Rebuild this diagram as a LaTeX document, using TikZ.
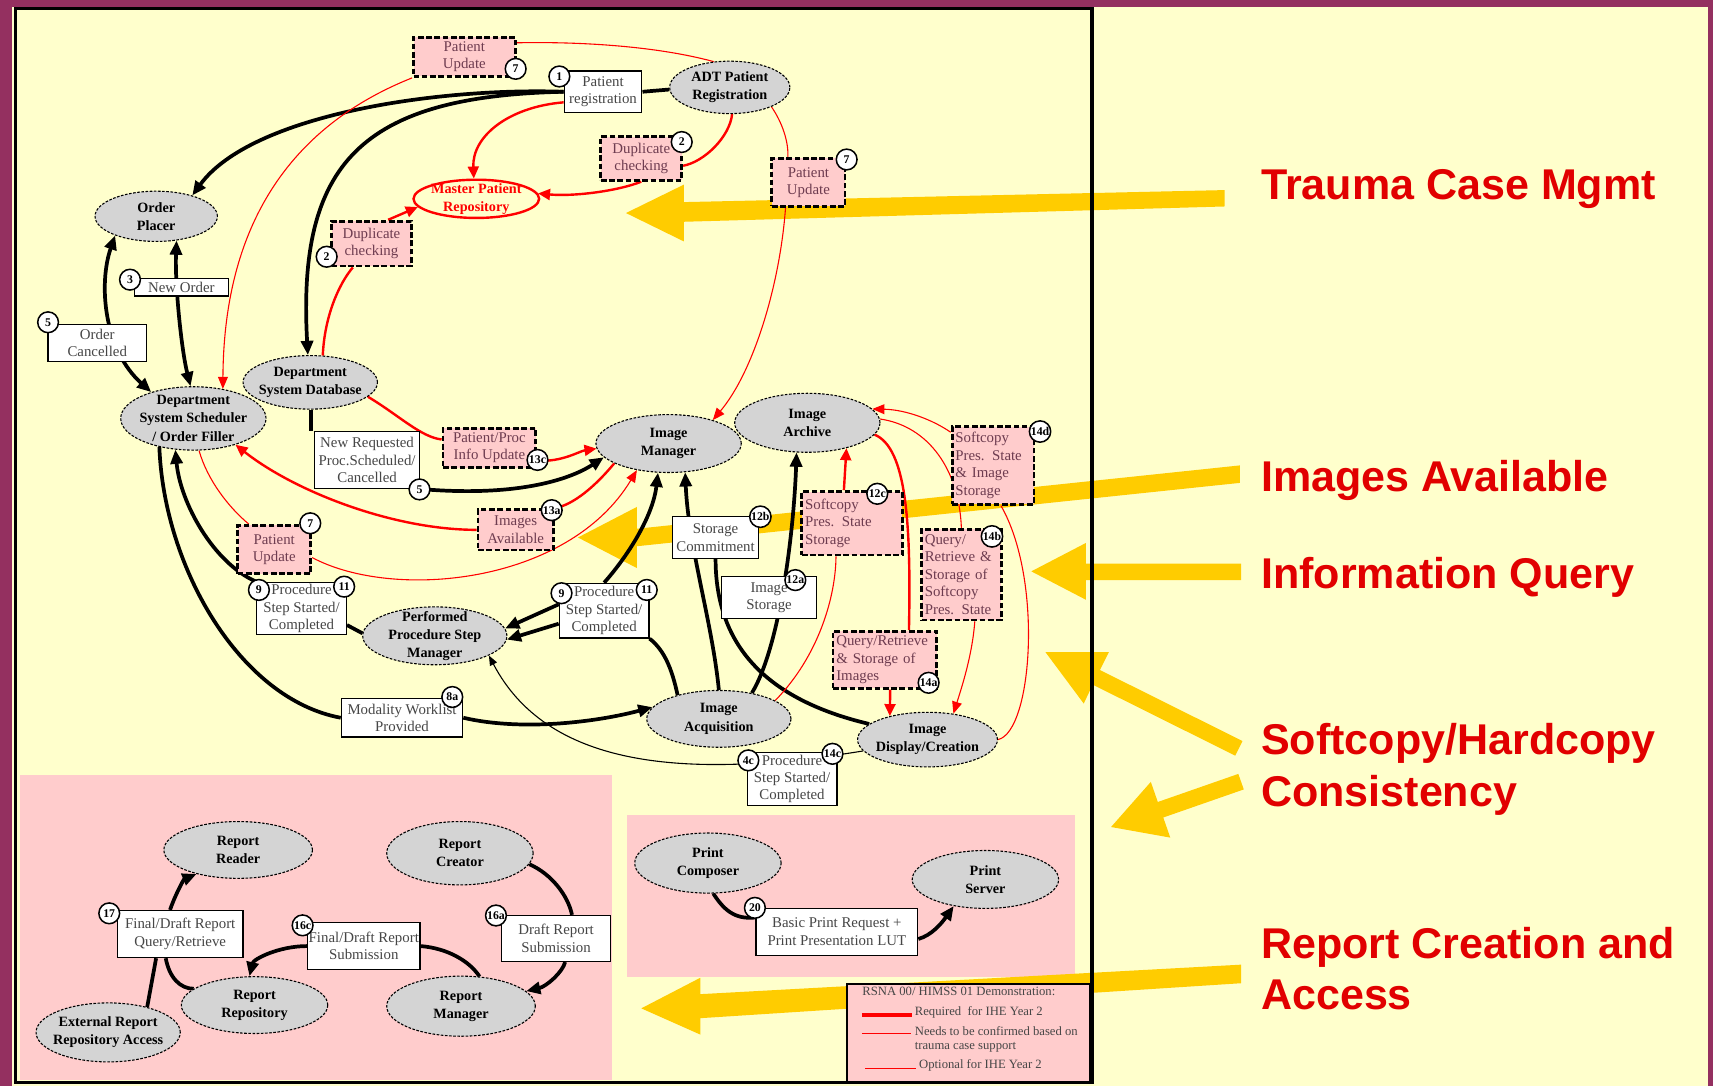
\documentclass[tikz,border=0pt]{standalone}
\usepackage{fontspec}
\setmainfont{Liberation Serif}
\newfontfamily\headfont{Liberation Sans}
\usetikzlibrary{shapes.geometric,arrows.meta,calc}
\pgfdeclarelayer{back}
\pgfdeclarelayer{wires}
\pgfsetlayers{back,wires,main}
\definecolor{frameplum}{RGB}{148,48,96}
\definecolor{paleyellow}{RGB}{255,255,204}
\definecolor{palepink}{RGB}{255,204,204}
\definecolor{actorgray}{RGB}{212,212,212}
\definecolor{gold}{RGB}{255,204,0}
\definecolor{labelred}{RGB}{225,0,0}
\definecolor{msgtext}{RGB}{70,70,70}
\definecolor{updtext}{RGB}{110,60,80}

\begin{document}
\begin{tikzpicture}[x=0.5pt, y=-0.5pt,
  actor/.style 2 args={ellipse, draw, line width=0.5pt, dash pattern=on 1.2pt off 0.7pt, fill=actorgray, inner sep=-3pt, minimum width=#1pt, minimum height=#2pt, align=center, font=\fontsize{6.5}{8.3}\selectfont\bfseries},
  msg/.style 2 args={rectangle, draw, line width=0.6pt, fill=white, inner sep=0.5pt, minimum width=#1pt, minimum height=#2pt, align=center, text=msgtext, font=\fontsize{6.8}{8}\selectfont},
  upd/.style 2 args={rectangle, draw, line width=1.3pt, dash pattern=on 2.6pt off 1.2pt, fill=palepink, inner sep=0.5pt, minimum width=#1pt, minimum height=#2pt, align=center, text=updtext, font=\fontsize{6.8}{8}\selectfont},
  updl/.style={align=left, inner xsep=1.5pt},
  num/.style={circle, draw, line width=0.7pt, fill=white, inner sep=0.2pt, minimum size=9.5pt, font=\fontsize{5.4}{5.4}\selectfont\bfseries},
  flow/.style={line width=1.7pt},
  flowar/.style={flow, -{Triangle[length=6.5pt,width=5.5pt]}},
  flowboth/.style={flow, {Triangle[length=6.5pt,width=5.5pt]}-{Triangle[length=6.5pt,width=5.5pt]}},
  req/.style={red, line width=1.1pt},
  reqar/.style={req, -{Triangle[length=5.5pt,width=5pt]}},
  opt/.style={red, line width=0.5pt},
  optar/.style={opt, -{Triangle[length=5.5pt,width=4.5pt]}},
  hint/.style={line width=0.5pt, -{Triangle[length=4.5pt,width=3.5pt]}},
  legtext/.style={anchor=west, inner sep=0pt, text=msgtext, font=\fontsize{5.8}{7}\selectfont},
  theme/.style={anchor=base west, inner sep=0pt, text=labelred, font=\headfont\fontsize{19.7}{23}\selectfont\bfseries},
  pointer/.style={fill=gold}]
\useasboundingbox (0,0) rectangle (1568,994);

\begin{pgfonlayer}{back}
  \fill[frameplum] (0,0) rectangle (1568,994);
  \fill[paleyellow] (11,6) rectangle (1563,994);
  \fill[palepink] (18,709) rectangle (560,989);
  \fill[palepink] (574,746) rectangle (984,894);
  % big pointers
  \fill[pointer] (1121,174) -- (626,185) -- (626,169) -- (573,195) -- (626,221) -- (626,203) -- (1121,189) -- cycle;
  \fill[pointer] (1135,426) -- (583,484) -- (583,464) -- (529,492) -- (583,520) -- (583,500) -- (1135,442) -- cycle;
  \fill[pointer] (1136,516) -- (994,516) -- (994,497) -- (944,523) -- (994,549) -- (994,531) -- (1136,531) -- cycle;
  \fill[pointer] (957,597) -- (1015,597) -- (1006.8,613.3) -- (1137.3,678.3) -- (1130.7,691.7) -- (1000.2,626.7) -- (992,644) -- cycle;
  \fill[pointer] (1017,757) -- (1053.4,715.7) -- (1059.8,734.1) -- (1133.5,708.4) -- (1138.5,722.6) -- (1064.8,748.3) -- (1071.2,766.7) -- cycle;
  \fill[pointer] (1136,883) -- (641,910) -- (641,895) -- (587,923) -- (641,947) -- (641,932) -- (1136,900) -- cycle;
  \draw[line width=0.8pt, fill=palepink] (775,901) rectangle (998,991);
  \draw[line width=1.6pt] (14,8) rectangle (999.5,991);
\end{pgfonlayer}

% actors
\node[actor={55}{24}] (adt) at (668,80) {ADT Patient\\Registration};
\node[actor={56}{23}] (oplacer) at (143,198) {Order\\Placer};
\node[actor={57.5}{17.5}, draw=red, line width=1.1pt, solid, fill=paleyellow, text=red] (mpr) at (436,182) {Master Patient\\Repository};
\node[actor={61.5}{24.5}] (dsd) at (284,350) {Department\\System Database};
\node[actor={66.5}{29}] (sched) at (177,383) {Department\\System Scheduler\\/ Order Filler};
\node[actor={66.5}{26.5}] (imgmgr) at (612,406) {Image\\Manager};
\node[actor={66.5}{27}] (imgarch) at (739,387) {Image\\Archive};
\node[actor={66}{26.5}] (ppsm) at (398,582) {Performed\\Procedure Step\\Manager};
\node[actor={66}{26}] (imgacq) at (658,658) {Image\\Acquisition};
\node[actor={64}{25}] (imgdisp) at (849,677) {Image\\Display/Creation};
\node[actor={68}{26}] (rreader) at (218,778) {Report\\Reader};
\node[actor={67}{29}] (rcreator) at (421,781) {Report\\Creator};
\node[actor={67}{26}] (rrepo) at (233,920) {Report\\Repository};
\node[actor={68}{27.5}] (rmgr) at (422,921) {Report\\Manager};
\node[actor={66}{27}] (extacc) at (99,945) {External Report\\Repository Access};
\node[actor={67}{27.5}] (prcomp) at (648,790) {Print\\Composer};
\node[actor={67}{26.5}] (prserv) at (902,805) {Print\\Server};

% transactions
\node[msg={35.5}{19}] (preg) at (552,84) {Patient\\registration};
\node[msg={43}{8}] (neworder) at (166,263) {New Order};
\node[msg={45}{17}] (ocanc) at (89,314) {Order\\Cancelled};
\node[msg={48}{26}] (newreq) at (336,421) {New Requested\\Proc.Scheduled/\\Cancelled};
\node[msg={39.5}{19}] (stc) at (655,492) {Storage\\Commitment};
\node[msg={43.5}{19}] (imgsto) at (704,547) {Image\\Storage};
\node[msg={41}{24}] (lproc) at (276,557) {Procedure\\Step Started/\\Completed};
\node[msg={41}{25}] (rproc) at (553,559) {Procedure\\Step Started/\\Completed};
\node[msg={55.5}{17.5}] (mwl) at (368,657) {Modality Worklist\\Provided};
\node[msg={41}{24}] (bproc) at (725,713) {Procedure\\Step Started/\\Completed};
\node[msg={57.5}{21.5}] (b17) at (165,855) {Final/Draft Report\\Query/Retrieve};
\node[msg={50.5}{21.5}] (b16c) at (333,866) {Final/Draft Report\\Submission};
\node[msg={50}{21}] (b16a) at (509,859) {Draft Report\\Submission};
\node[msg={74}{21.5}] (b20) at (766,853) {Basic Print Request +\\Print Presentation LUT};

\node[upd={46.5}{18}] (pu1) at (425,52) {Patient\\Update};
\node[upd={37}{20}] (dupr) at (587,145) {Duplicate\\checking};
\node[upd={33.5}{22}] (pu2) at (740,167) {Patient\\Update};
\node[upd={36.5}{20.5}] (dupl) at (340,223) {Duplicate\\checking};
\node[upd={42.5}{18}] (ppiu) at (448,410) {Patient/Proc\\Info Update};
\node[upd={34.5}{18.5}] (imgav) at (472,485) {Images\\Available};
\node[upd={33.5}{22}] (pu3) at (251,503) {Patient\\Update};
\node[upd={46}{29}, updl, text width=43pt] (sp12c) at (780,479) {Softcopy\\Pres. State\\Storage};
\node[upd={37.5}{35.5}, updl, text width=34.5pt] (sp14d) at (909,426) {Softcopy\\Pres. State\\\& Image\\Storage};
\node[upd={36.5}{41.5}, updl, text width=33.5pt] (qr14b) at (880,526) {Query/\\Retrieve \&\\Storage of\\Softcopy\\Pres. State};
\node[upd={47.5}{26}, updl, text width=44.5pt] (qr14a) at (810,604) {Query/Retrieve\\\& Storage of\\Images};

\node[num] (n1) at (512,70) {1};
\node[num] (n7a) at (472,63) {7};
\node[num] (n2a) at (624,130) {2};
\node[num] (n7b) at (775,146) {7};
\node[num] (n2b) at (299,235) {2};
\node[num] (n3) at (119,256) {3};
\node[num] (n5a) at (44,295) {5};
\node[num] (n5b) at (384,448) {5};
\node[num] (n13c) at (492,421) {13c};
\node[num] (n13a) at (505,467) {13a};
\node[num] (n7c) at (284,479) {7};
\node[num] (n9a) at (237,540) {9};
\node[num] (n11a) at (315,537) {11};
\node[num] (n9b) at (514,543) {9};
\node[num] (n11b) at (592,540) {11};
\node[num] (n12b) at (696,473) {12b};
\node[num] (n12a) at (728,531) {12a};
\node[num] (n12c) at (803,452) {12c};
\node[num] (n14d) at (952,395) {14d};
\node[num] (n14b) at (908,491) {14b};
\node[num] (n14a) at (850,625) {14a};
\node[num] (n8a) at (414,638) {8a};
\node[num] (n4c) at (685,696) {4c};
\node[num] (n14c) at (762,690) {14c};
\node[num] (n17) at (100,836) {17};
\node[num] (n16c) at (277,847) {16c};
\node[num] (n16a) at (454,838) {16a};
\node[num] (n20) at (691,831) {20};

\begin{pgfonlayer}{wires}
  \draw[flow] (adt.182) -- (preg.east);
  \draw[flowar] (preg.west) .. controls (400,80) and (230,105) .. (oplacer.30);
  \draw[flowar] (preg.west) .. controls (330,88) and (272,150) .. (dsd.95);
  \draw[flowboth] (oplacer.205) .. controls (90,260) and (95,320) .. (sched.148);
  \draw[flowboth] (oplacer.-50) .. controls (160,260) and (166,320) .. (sched.95);
  \draw[flow] (dsd.-88) -- (dsd.-88 |- newreq.north);
  \draw[flowar] (newreq.south east) .. controls (470,455) and (520,440) .. (imgmgr.192);
  \draw[flow] (sched.220) .. controls (150,520) and (220,640) .. (mwl.west);
  \draw[flowar] (mwl.east) .. controls (480,670) and (550,660) .. (imgacq.170);
  \draw[flowar] (lproc.north west) .. controls (195,515) and (165,460) .. (sched.240);
  \draw[flow] (lproc.-20) -- (ppsm.178);
  \draw[flowar] (rproc.172) -- (ppsm.6);
  \draw[flowar] (rproc.196) -- (ppsm.-3);
  \draw[flowar] (rproc.north) .. controls (578,505) and (598,470) .. (imgmgr.250);
  \draw[flow] (rproc.south east) .. controls (608,595) and (615,612) .. (imgacq.150);
  \draw[flowar] (imgacq.90) .. controls (652,570) and (630,500) .. (imgmgr.-60);
  \draw[flow] (stc.south) .. controls (655,590) and (700,640) .. (imgdisp.165);
  \draw[flowar] (imgacq.38) .. controls (715,590) and (727,480) .. (imgarch.-110);
  \draw[hint] (imgdisp.190) .. controls (620,715) and (500,700) .. (ppsm.-20);
  % reports and print
  \draw[flowar] (b17.113) .. controls (160,820) and (168,805) .. (rreader.210);
  \draw[flow] (b17.-135) -- (extacc.33);
  \draw[flow] (b17.-121) .. controls (155,895) and (165,905) .. (rrepo.165);
  \draw[flowar] (b16c.west) .. controls (255,866) and (232,878) .. (rrepo.100);
  \draw[flow] (b16c.east) .. controls (410,868) and (430,880) .. (rmgr.58);
  \draw[flow] (rcreator.-9) .. controls (505,800) and (520,820) .. (b16a.56);
  \draw[flowar] (b16a.-69) .. controls (515,890) and (500,903) .. (rmgr.13);
  \draw[flow] (prcomp.-80) .. controls (662,832) and (672,842) .. (b20.170);
  \draw[flowar] (b20.-5) .. controls (853,856) and (862,845) .. (prserv.220);
  % required
  \draw[reqar] (preg.195) .. controls (465,98) and (432,125) .. (mpr.97);
  \draw[req] (adt.-85) .. controls (668,125) and (645,148) .. (dupr.-10);
  \draw[reqar] (dupr.south) .. controls (565,175) and (525,180) .. (mpr.5);
  \draw[req] (dsd.65) .. controls (297,290) and (310,260) .. (dupl.-128);
  \draw[reqar] (dupl.55) -- (mpr.188);
  \draw[req] (dsd.-14) .. controls (365,380) and (385,400) .. (ppiu.170);
  \draw[reqar] (ppiu.-15) .. controls (515,423) and (530,413) .. (imgmgr.184);
  \draw[req] (imgav.north east) .. controls (525,462) and (545,445) .. (imgmgr.200);
  \draw[reqar] (imgav.west) .. controls (360,485) and (270,450) .. (sched.-32);
  \draw[req] (imgarch.-10) .. controls (830,410) and (834,480) .. ($(qr14a.north)+(22,0)$);
  \draw[reqar] (qr14a.-80) -- (imgdisp.148);
  \draw[reqar] (sp12c.104) -- (imgarch.-33);
  % to be confirmed
  \draw[opt] (adt.122) .. controls (600,42) and (530,38) .. (pu1.15);
  \draw[optar] (pu1.south west) .. controls (280,110) and (205,190) .. (sched.45);
  \draw[opt] (adt.-25) .. controls (716,112) and (722,130) .. (pu2.129);
  \draw[optar] (pu2.-132) .. controls (714,260) and (690,340) .. (imgmgr.28);
  \draw[opt] (sched.-80) .. controls (190,440) and (210,465) .. (pu3.135);
  \draw[optar] (pu3.-12) .. controls (360,550) and (520,535) .. (imgmgr.220);
  \draw[opt] (imgacq.18) .. controls (750,600) and (765,545) .. (sp12c.-116);
  \draw[opt] (imgarch.3) .. controls (850,390) and (878,430) .. (qr14b.north);
  \draw[optar] (qr14b.-74) .. controls (890,600) and (880,630) .. (imgdisp.45);
  \draw[opt] (imgdisp.east) .. controls (945,670) and (955,530) .. (sp14d.-79);
  \draw[optar] (sp14d.142) .. controls (855,385) and (830,375) .. (imgarch.12);
\end{pgfonlayer}

% legend
\node[legtext] (legtitle) at (789,907) {RSNA 00/ HIMSS 01 Demonstration:};
\coordinate (lg1a) at (789,929); \coordinate (lg1b) at (835,929);
\coordinate (lg2a) at (789,946); \coordinate (lg2b) at (834,946);
\coordinate (lg3a) at (792,978); \coordinate (lg3b) at (838,978);
\draw[red, line width=1.8pt] (lg1a) -- (lg1b);
\draw[red, line width=0.7pt] (lg2a) -- (lg2b);
\draw[red, line width=0.5pt] (lg3a) -- (lg3b);
\node[legtext] (leg1) at (837,927) {Required\ \ for IHE Year 2};
\node[legtext] (leg2) at (837,944) {Needs to be confirmed based on};
\node[legtext] (leg2b) at (837,959) {trauma case support};
\node[legtext] (leg3) at (841,975) {Optional for IHE Year 2};

% themes
\node[theme] (tcm) at (1154,183) {Trauma Case Mgmt};
\node[theme] (iav) at (1154,450) {Images Available};
\node[theme] (iqr) at (1154,539) {Information Query};
\node[theme] (shc) at (1154,691) {Softcopy/Hardcopy};
\node[theme] (shc2) at (1154,738) {Consistency};
\node[theme] (rca) at (1154,877) {Report Creation and};
\node[theme] (rca2) at (1154,924) {Access};
\end{tikzpicture}
\end{document}
